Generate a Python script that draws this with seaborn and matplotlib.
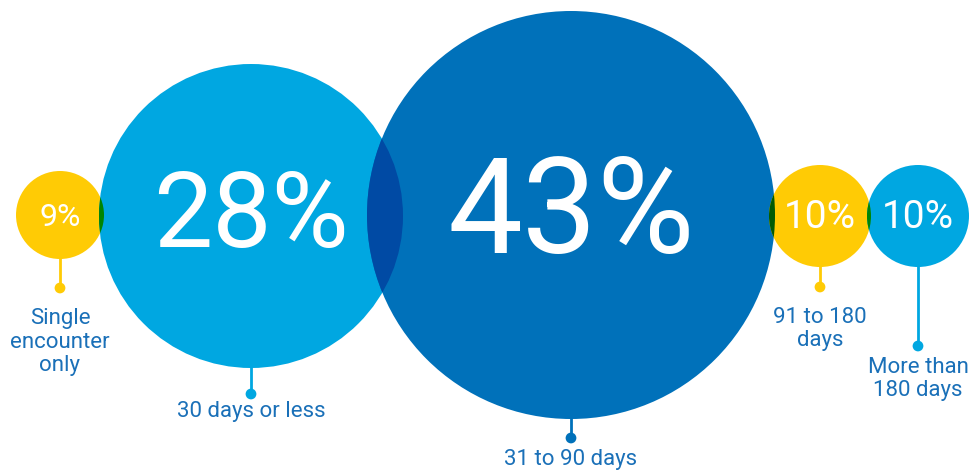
import numpy as np
import pandas as pd
import matplotlib
matplotlib.use("Agg")
import matplotlib.pyplot as plt
from matplotlib.patches import Circle
from matplotlib.colors import to_rgb
import seaborn as sns

# ---- data ----
categories = ["Single\nencounter\nonly", "30 days or less", "31 to 90 days",
              "91 to 180\ndays", "More than\n180 days"]
values = [9, 28, 43, 10, 10]
value_labels = ["9%", "28%", "43%", "10%", "10%"]

# ---- layout / style (pixel space) ----
W, H = 977, 470
cx = [60, 251, 571, 820, 918]
cy = [215, 216, 215, 216, 216]
radius = [44, 152, 204, 51, 51]
colors = ["#FFCB05", "#00A7E1", "#0071BA", "#FFCB05", "#00A7E1"]
pct_size = [23, 76, 96, 28, 28]
dot_y = [288, 394, 438, 287, 346]
label_y = [342, 412, 459, 329, 379]
label_color = "#1A70B8"

sns.set_theme(style="white")
plt.rcParams["font.family"] = ["Roboto", "DejaVu Sans"]

fig = plt.figure(figsize=(W / 100, H / 100), dpi=100)
ax = fig.add_axes([0, 0, 1, 1])
ax.set_xlim(0, W)
ax.set_ylim(H, 0)
ax.set_axis_off()

# sticks
for i in range(len(values)):
    ax.plot([cx[i], cx[i]], [cy[i] + radius[i] - 2, dot_y[i]],
            color=colors[i], lw=2, zorder=1, solid_capstyle="butt")

# circles
circles = []
for i in range(len(values)):
    c = Circle((cx[i], cy[i]), radius[i], facecolor=colors[i],
               edgecolor="none", zorder=2)
    ax.add_patch(c)
    circles.append(c)

# multiply-blended overlaps
for i in range(len(values)):
    for j in range(i + 1, len(values)):
        d = np.hypot(cx[i] - cx[j], cy[i] - cy[j])
        if d < radius[i] + radius[j]:
            mix = tuple(a * b for a, b in zip(to_rgb(colors[i]), to_rgb(colors[j])))
            ov = Circle((cx[j], cy[j]), radius[j], facecolor=mix,
                        edgecolor="none", zorder=3)
            ax.add_patch(ov)
            ov.set_clip_path(circles[i])

# end dots
dots = pd.DataFrame({"x": cx, "y": dot_y, "cat": categories})
sns.scatterplot(data=dots, x="x", y="y", hue="cat",
                palette=dict(zip(categories, colors)), s=60,
                edgecolor="none", legend=False, ax=ax, zorder=4)
ax.set_xlim(0, W)
ax.set_ylim(H, 0)
ax.set_axis_off()

# percent labels
for i in range(len(values)):
    ax.text(cx[i], cy[i] + 2, value_labels[i], color="white",
            fontsize=pct_size[i], fontweight="normal",
            ha="center", va="center", zorder=5)

# category labels
for i in range(len(values)):
    ax.text(cx[i], label_y[i], categories[i], color=label_color,
            fontsize=16, ha="center", va="center",
            linespacing=1.15, zorder=5)

fig.savefig("out.png", dpi=100)
